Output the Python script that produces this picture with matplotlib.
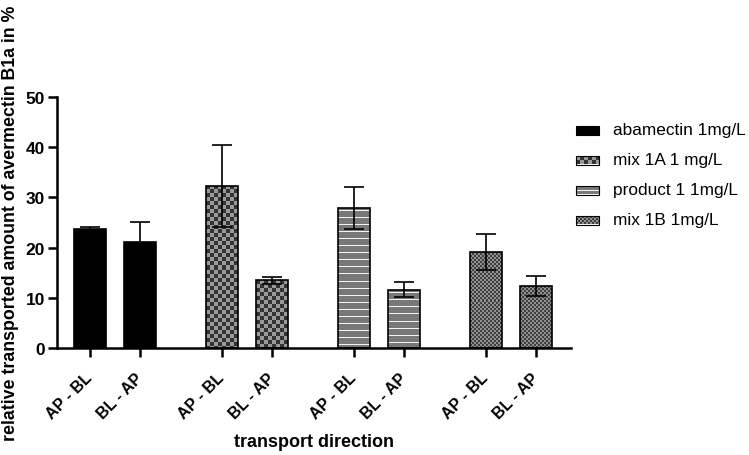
import numpy as np
import matplotlib.pyplot as plt
from matplotlib.patches import Rectangle

plt.rcParams['font.family'] = ['Liberation Sans', 'DejaVu Sans']

groups = ['abamectin 1mg/L', 'mix 1A 1 mg/L', 'product 1 1mg/L', 'mix 1B 1mg/L']
directions = ['AP - BL', 'BL - AP']
means = [[23.8, 21.2], [32.3, 13.5], [27.9, 11.6], [19.2, 12.3]]
errors = [[0.4, 3.9], [8.1, 0.7], [4.2, 1.5], [3.6, 2.0]]
textures = ['solid', 'check', 'lines', 'fine']


def texture(kind, h, w):
    i, j = np.mgrid[0:h, 0:w]
    if kind == 'check':
        return np.where(((i // 4) + (j // 4)) % 2 == 0, 0.2, 0.6)
    if kind == 'fine':
        return np.where(((i // 2) + (j // 2)) % 2 == 0, 0.25, 0.56)
    if kind == 'lines':
        return np.where(i % 7 == 3, 0.95, 0.47)
    return np.zeros((h, w))


def fill(ax, patch, kind):
    if kind == 'solid':
        patch.set_facecolor('black')
        return
    bb = patch.get_window_extent()
    w = max(int(round(bb.width)), 1)
    h = max(int(round(bb.height)), 1)
    x0, y0 = patch.get_x(), patch.get_y()
    ext = [x0, x0 + patch.get_width(), y0, y0 + patch.get_height()]
    im = ax.imshow(texture(kind, h, w), cmap='gray', vmin=0, vmax=1, extent=ext,
                   interpolation='nearest', aspect='auto',
                   zorder=patch.get_zorder() - 0.1)
    im.set_clip_path(patch)


fig = plt.figure(figsize=(7.49, 4.56), dpi=100)
ax = fig.add_axes([57 / 749, 1 - 349 / 456, (571 - 57) / 749, (349 - 98) / 456])
ax.set_xlim(-0.66, 9.62)
ax.set_ylim(0, 50)

step = 2.64
xs, labels = [], []
for g, name in enumerate(groups):
    x = [g * step + d for d in range(len(directions))]
    bars = ax.bar(x, means[g], width=0.64, facecolor='none', edgecolor='black',
                  linewidth=1.2, zorder=2)
    for b in bars:
        fill(ax, b, textures[g])
    ax.errorbar(x, means[g], yerr=errors[g], fmt='none', ecolor='black',
                elinewidth=1.2, capsize=7, capthick=1.2, zorder=3)
    xs += x
    labels += directions

ax.set_xlim(-0.66, 9.62)
ax.set_ylim(0, 50)
ax.set_xticks(xs)
ax.set_xticklabels(labels, rotation=45, ha='right', va='center',
                   rotation_mode='anchor', fontweight='bold', fontsize=11.5)
ax.set_yticks(range(0, 51, 10))
ax.tick_params(axis='y', labelsize=12.5, width=1.8, length=6.5, pad=2)
ax.tick_params(axis='x', width=1.8, length=6.5, pad=13)
for t in ax.get_yticklabels():
    t.set_fontweight('bold')
for s in ['top', 'right']:
    ax.spines[s].set_visible(False)
for s in ['left', 'bottom']:
    ax.spines[s].set_linewidth(1.8)

ax.set_ylabel('relative transported amount of avermectin B1a in %',
              fontweight='bold', fontsize=12.8)
ax.yaxis.set_label_coords(-38 / 514, 0.5)
ax.set_xlabel('transport direction', fontweight='bold', fontsize=13)
ax.xaxis.set_label_coords(0.5, -(434 - 349) / 251)

# legend drawn in pixel space
lg = fig.add_axes([0, 0, 1, 1], zorder=5)
lg.set_xlim(0, 749)
lg.set_ylim(456, 0)
lg.axis('off')
for k, name in enumerate(groups):
    yc = 131 + 30 * k
    r = Rectangle((576, yc - 4.5), 23, 9, facecolor='none', edgecolor='black',
                  linewidth=0.8, zorder=2)
    lg.add_patch(r)
    fill(lg, r, textures[k])
    lg.text(613, yc, name, fontsize=12.4, va='center', ha='left')
lg.set_xlim(0, 749)
lg.set_ylim(456, 0)

fig.savefig('out.png', dpi=100)
